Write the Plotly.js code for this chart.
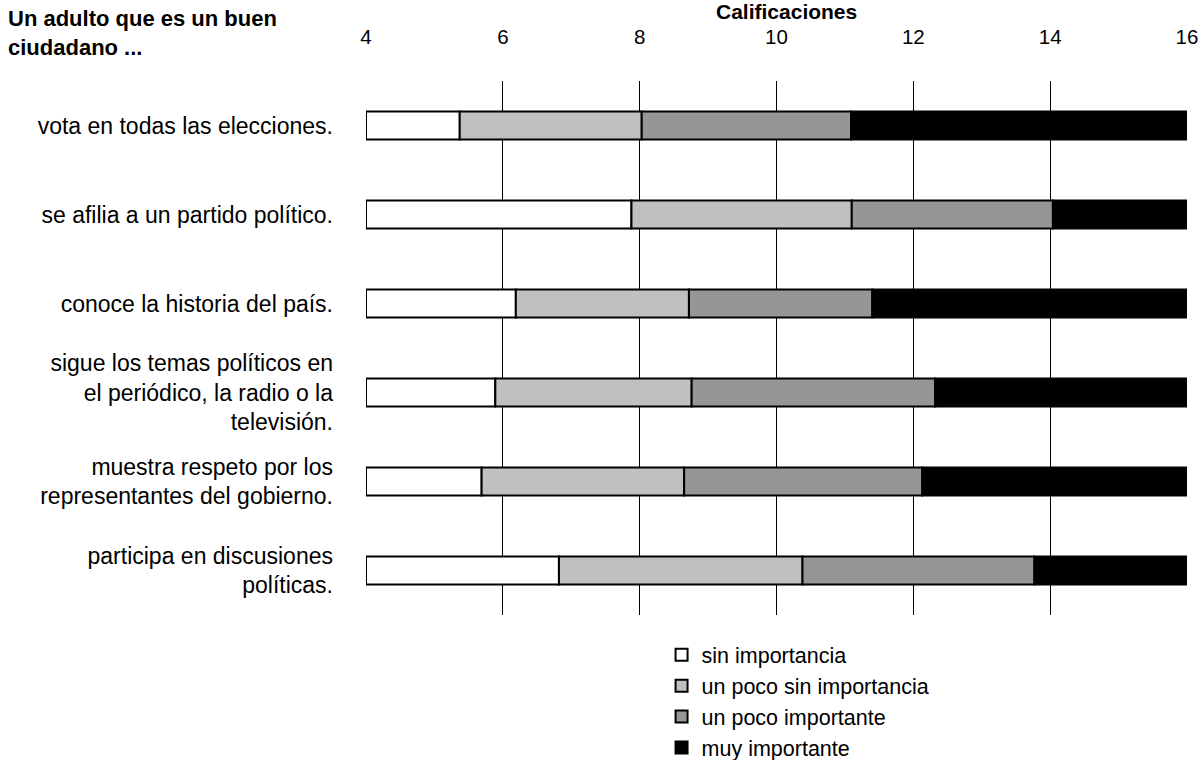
<!DOCTYPE html>
<html>
<head>
<meta charset="utf-8">
<script src="https://cdn.plot.ly/plotly-3.0.1.min.js"></script>
<style>html,body{margin:0;padding:0;background:#fff;}#chart{width:1201px;height:760px;}</style>
</head>
<body>
<div id="chart"></div>
<script>
// Categories (top to bottom)
const categorias = [
  "vota en todas las elecciones.",
  "se afilia a un partido político.",
  "conoce la historia del país.",
  "sigue los temas políticos en<br>el periódico, la radio o la<br>televisión.",
  "muestra respeto por los<br>representantes del gobierno.",
  "participa en discusiones<br>políticas."
];
// Scale limits
const escalaMin = 4;
const escalaMax = 16;
// Thresholds between response categories (Calificaciones)
const umbral1 = [5.37, 7.88, 6.19, 5.89, 5.69, 6.82];
const umbral2 = [8.03, 11.10, 8.72, 8.76, 8.65, 10.38];
const umbral3 = [11.09, 14.04, 11.40, 12.32, 12.13, 13.77];
// Series names
const series = ["sin importancia", "un poco sin importancia", "un poco importante", "muy importante"];
const colores = ["#FFFFFF", "#C0C0C0", "#969696", "#000000"];
// X tick values
const ticksX = [4, 6, 8, 10, 12, 14, 16];

const inicio = [categorias.map(() => escalaMin), umbral1, umbral2, umbral3];
const fin = [umbral1, umbral2, umbral3, categorias.map(() => escalaMax)];

const traces = series.map((nombre, k) => ({
  type: "bar",
  orientation: "h",
  name: nombre,
  y: categorias,
  base: inicio[k],
  x: fin[k].map((v, i) => v - inicio[k][i]),
  marker: {color: colores[k], line: {color: "#000", width: 2}},
  hoverinfo: "skip"
}));

const fontFam = "Liberation Sans, Arial, sans-serif";
const layout = {
  width: 1201, height: 760,
  margin: {l: 366, r: 14, t: 81, b: 145, autoexpand: false},
  paper_bgcolor: "#fff", plot_bgcolor: "#fff",
  barmode: "overlay",
  bargap: 0.685,
  font: {family: fontFam, size: 23, color: "#000"},
  showlegend: true,
  legend: {
    x: 0.36, xanchor: "left", y: -0.036, yanchor: "top",
    orientation: "v", traceorder: "normal",
    font: {family: fontFam, size: 21.5, color: "#000"},
    itemwidth: 30, tracegroupgap: 0, bgcolor: "rgba(0,0,0,0)"
  },
  xaxis: {
    side: "top",
    range: [escalaMin, escalaMax],
    tickvals: ticksX,
    ticktext: ticksX.map(String),
    showgrid: true, gridcolor: "#000", gridwidth: 1,
    zeroline: false, showline: false, ticks: "",
    ticklabelstandoff: 32,
    tickfont: {family: fontFam, size: 20.5, color: "#000"}
  },
  yaxis: {
    autorange: "reversed",
    type: "category",
    showgrid: false, zeroline: false, showline: false, ticks: "",
    ticklabelstandoff: 32,
    tickfont: {family: fontFam, size: 23, color: "#000"}
  },
  annotations: [{
    xref: "paper", yref: "paper",
    x: -366/821, y: 1 + 81/534, xanchor: "left", yanchor: "top",
    xshift: 6, yshift: -4,
    align: "left", showarrow: false,
    text: "<b>Un adulto que es un buen<br>ciudadano ...</b>",
    font: {family: fontFam, size: 22, color: "#000"}
  }, {
    xref: "paper", yref: "paper",
    x: 0.512, y: 1 + 81/534, xanchor: "center", yanchor: "top",
    yshift: 2,
    showarrow: false,
    text: "<b>Calificaciones</b>",
    font: {family: fontFam, size: 21, color: "#000"}
  }]
};

Plotly.newPlot("chart", traces, layout, {displayModeBar: false, staticPlot: true});
</script>
</body>
</html>
